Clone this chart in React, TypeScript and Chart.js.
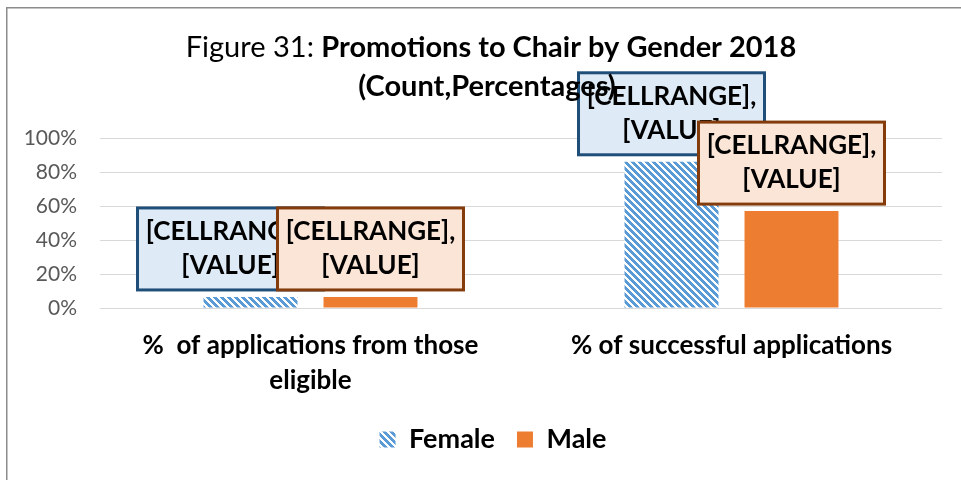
import React, { useEffect, useRef } from "react";
import { Chart, registerables } from "chart.js";

Chart.register(...registerables);

const categories: (string | string[])[] = [
  ["%  of applications from those", "eligible"],
  "% of successful applications",
];
const femaleValues = [6.5, 86];
const maleValues = [6.5, 57];
const seriesNames = ["Female", "Male"];
const yTicks = [0, 20, 40, 60, 80, 100];
const titleNormal = "Figure 31: ";
const titleBold = "Promotions to Chair by Gender 2018";
const titleLine2 = "(Count,Percentages)";
const labelLines = ["[CELLRANGE],", "[VALUE]"];

const FONT = "Lato, 'Open Sans', sans-serif";

function makeStripePattern(): CanvasPattern | string {
  const c = document.createElement("canvas");
  const n = 7;
  c.width = n;
  c.height = n;
  const g = c.getContext("2d");
  if (!g) return "#5B9BD5";
  g.fillStyle = "#ffffff";
  g.fillRect(0, 0, n, n);
  g.fillStyle = "#5B9BD5";
  for (let y = 0; y < n; y++) {
    for (let x = 0; x < n; x++) {
      const d = (((x - y) % n) + n) % n;
      if (d < 4) g.fillRect(x, y, 1, 1);
    }
  }
  const p = g.createPattern(c, "repeat");
  return p || "#5B9BD5";
}

const boxStyles = [
  { fill: "#DEEBF7", stroke: "#1F4E79", shift: [-20, 0] },
  { fill: "#FBE5D6", stroke: "#843C0C", shift: [0, 0] },
];

const chromePlugin = {
  id: "chrome",
  afterLayout(chart: any) {
    const lg = chart.legend;
    if (lg) {
      lg.left += 19;
      lg.right += 19;
    }
  },
  beforeDraw(chart: any) {
    const ctx = chart.ctx;
    ctx.save();
    ctx.fillStyle = "#ffffff";
    ctx.fillRect(0, 0, chart.width, chart.height);
    ctx.strokeStyle = "#8c8c8c";
    ctx.lineWidth = 1.5;
    ctx.strokeRect(6.75, 7.75, 3000, 3000);
    ctx.restore();
  },
  afterDatasetsDraw(chart: any) {
    const ctx = chart.ctx;
    ctx.save();
    const bw = 186;
    const bh = 82;
    chart.data.datasets.forEach((ds: any, di: number) => {
      const meta = chart.getDatasetMeta(di);
      const st = boxStyles[di];
      meta.data.forEach((bar: any, i: number) => {
        const cx = bar.x + st.shift[i];
        const bottom = bar.y - 7;
        const top = bottom - bh;
        const left = cx - bw / 2;
        ctx.fillStyle = st.fill;
        ctx.fillRect(left, top, bw, bh);
        ctx.strokeStyle = st.stroke;
        ctx.lineWidth = 3;
        ctx.strokeRect(left, top, bw, bh);
        ctx.fillStyle = "#000000";
        ctx.font = `bold 26px ${FONT}`;
        ctx.textAlign = "center";
        ctx.textBaseline = "middle";
        ctx.fillText(labelLines[0], cx, top + 24);
        ctx.fillText(labelLines[1], cx, top + 58);
      });
    });
    ctx.restore();
  },
  afterDraw(chart: any) {
    const ctx = chart.ctx;
    ctx.save();
    ctx.fillStyle = "#000000";
    ctx.textBaseline = "middle";
    ctx.textAlign = "left";
    const cx = 491;
    const fN = `29px ${FONT}`;
    const fB = `bold 29px ${FONT}`;
    ctx.font = fN;
    const wN = ctx.measureText(titleNormal).width;
    ctx.font = fB;
    const wB = ctx.measureText(titleBold).width;
    const x0 = cx - (wN + wB) / 2;
    ctx.font = fN;
    ctx.fillText(titleNormal, x0, 48);
    ctx.font = fB;
    ctx.fillText(titleBold, x0 + wN, 48);
    ctx.textAlign = "center";
    ctx.fillText(titleLine2, 487, 87);
    ctx.restore();
  },
};

export default function App() {
  const ref = useRef<HTMLCanvasElement | null>(null);
  useEffect(() => {
    if (!ref.current) return;
    const pattern = makeStripePattern();
    const chart = new Chart(ref.current, {
      type: "bar",
      data: {
        labels: categories,
        datasets: [
          {
            label: seriesNames[0],
            data: femaleValues,
            backgroundColor: pattern as any,
            borderWidth: 0,
            categoryPercentage: 0.57,
            barPercentage: 0.783,
          },
          {
            label: seriesNames[1],
            data: maleValues,
            backgroundColor: "#ED7D31",
            borderWidth: 0,
            categoryPercentage: 0.57,
            barPercentage: 0.783,
          },
        ],
      },
      options: {
        animation: false,
        responsive: false,
        devicePixelRatio: 1,
        layout: { padding: { top: 138, left: 6, right: 19, bottom: 17 } },
        scales: {
          x: {
            grid: { display: false },
            border: { display: false },
            ticks: {
              color: "#000000",
              padding: 12,
              maxRotation: 0,
              autoSkip: false,
              font: { family: FONT, size: 26, weight: "bold", lineHeight: 35 / 26 },
            },
            afterFit(scale: any) {
              scale.height = 96;
            },
          },
          y: {
            min: 0,
            max: 100,
            afterBuildTicks(scale: any) {
              scale.ticks = yTicks.map((v) => ({ value: v }));
            },
            grid: { color: "#D9D9D9", lineWidth: 1, drawTicks: false },
            border: { display: false },
            ticks: {
              color: "#595959",
              padding: 23,
              font: { family: FONT, size: 21 },
              callback: (v: any) => `${v}%`,
            },
            afterFit(scale: any) {
              scale.width = 94;
            },
          },
        },
        plugins: {
          legend: {
            position: "bottom",
            labels: {
              color: "#000000",
              boxWidth: 16,
              boxHeight: 16,
              padding: 22,
              font: { family: FONT, size: 27, weight: "bold" },
            },
          },
          title: { display: false },
          tooltip: { enabled: false },
        },
      },
      plugins: [chromePlugin],
    });
    return () => chart.destroy();
  }, []);
  return (
    <div style={{ position: "absolute", left: 0, top: 0, width: 961, height: 480 }}>
      <canvas ref={ref} width={961} height={480} style={{ display: "block" }} />
    </div>
  );
}
